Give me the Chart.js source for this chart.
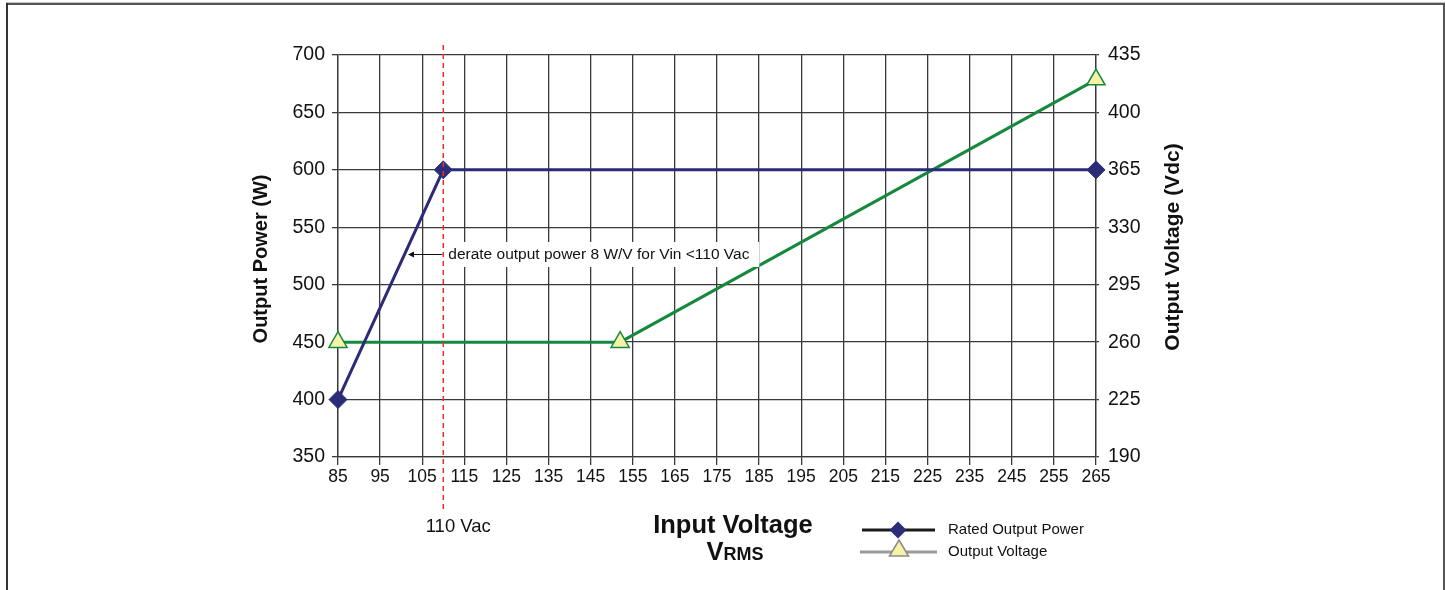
<!DOCTYPE html>
<html>
<head>
<meta charset="utf-8">
<script src="https://cdn.jsdelivr.net/npm/chart.js@4"></script>
<style>
  html, body { margin: 0; padding: 0; background: #fff; }
  #wrap { position: relative; width: 1445px; height: 590px; }
</style>
</head>
<body>
<div id="wrap"><canvas id="chart" width="1445" height="590"></canvas></div>
<script>
// --- data ---
const powerX = [85, 110, 265];
const powerY = [400, 600, 600];
const voltX = [85, 152, 265];
const voltY = [260, 260, 420];
const derateX = 110;

const FONT = '"Liberation Sans", Arial, Helvetica, sans-serif';
const NAVY = '#2a2c78';
const GREEN = '#16893f';
const PALE = '#f6f2a8';

function pts(xs, ys) { return xs.map((x, i) => ({ x: x, y: ys[i] })); }

function diamond(ctx, x, y, r, fill) {
    ctx.beginPath();
    ctx.moveTo(x, y - r); ctx.lineTo(x + r, y); ctx.lineTo(x, y + r); ctx.lineTo(x - r, y);
    ctx.closePath();
    ctx.fillStyle = fill; ctx.fill();
}
function triangle(ctx, x, y, r, fill, stroke) {
    ctx.beginPath();
    ctx.moveTo(x, y - r); ctx.lineTo(x + r * 0.95, y + r * 0.6); ctx.lineTo(x - r * 0.95, y + r * 0.6);
    ctx.closePath();
    ctx.fillStyle = fill; ctx.fill();
    ctx.lineWidth = 1.5; ctx.strokeStyle = stroke; ctx.stroke();
}

const extras = {
    id: 'extras',
    afterDatasetsDraw(chart) {
        const ctx = chart.ctx;
        const xs = chart.scales.x;
        const area = chart.chartArea;
        const xr = xs.getPixelForValue(derateX);
        ctx.save();
        // red dashed marker at 110 Vac
        ctx.strokeStyle = '#f02c2c';
        ctx.lineWidth = 1.5;
        ctx.setLineDash([5, 4]);
        ctx.beginPath(); ctx.moveTo(xr, area.top - 10); ctx.lineTo(xr, area.bottom + 56); ctx.stroke();
        ctx.setLineDash([]);

        // annotation box + arrow
        ctx.fillStyle = '#fff';
        ctx.fillRect(xr + 2, 242, 314, 25);
        ctx.fillStyle = '#111';
        ctx.font = '15.5px ' + FONT;
        ctx.textBaseline = 'middle';
        ctx.textAlign = 'left';
        ctx.fillText('derate output power 8 W/V for Vin <110 Vac', xr + 5, 255);
        ctx.strokeStyle = '#111'; ctx.lineWidth = 1;
        ctx.beginPath(); ctx.moveTo(xr - 1, 254.5); ctx.lineTo(409, 254.5); ctx.stroke();
        ctx.beginPath(); ctx.moveTo(408, 254.5); ctx.lineTo(414, 251.5); ctx.lineTo(414, 257.5); ctx.closePath();
        ctx.fillStyle = '#111'; ctx.fill();

        // 110 Vac label
        ctx.font = '18.5px ' + FONT;
        ctx.textAlign = 'center';
        ctx.fillText('110 Vac', xr + 15, 527);

        // axis titles
        ctx.font = 'bold 20px ' + FONT;
        ctx.save();
        ctx.translate(261, 259); ctx.rotate(-Math.PI / 2);
        ctx.fillText('Output Power (W)', 0, 0);
        ctx.restore();
        ctx.font = 'bold 21px ' + FONT;
        ctx.save();
        ctx.translate(1173, 247); ctx.rotate(-Math.PI / 2);
        ctx.fillText('Output Voltage (Vdc)', 0, 0);
        ctx.restore();

        ctx.font = 'bold 25.5px ' + FONT;
        ctx.textAlign = 'center';
        ctx.fillText('Input Voltage', 733, 526);
        ctx.textAlign = 'left';
        const vW = ctx.measureText('V').width;
        ctx.font = 'bold 18px ' + FONT;
        const rW = ctx.measureText('RMS').width;
        const startX = 735 - (vW + rW) / 2;
        ctx.font = 'bold 25.5px ' + FONT;
        ctx.textBaseline = 'alphabetic';
        ctx.fillText('V', startX, 560);
        ctx.font = 'bold 18px ' + FONT;
        ctx.fillText('RMS', startX + vW, 560);

        // legend
        ctx.lineWidth = 3;
        ctx.strokeStyle = '#1b1b1b';
        ctx.beginPath(); ctx.moveTo(862, 530); ctx.lineTo(935, 530); ctx.stroke();
        diamond(ctx, 898, 530, 8.5, NAVY);
        ctx.strokeStyle = '#9a9a9a';
        ctx.beginPath(); ctx.moveTo(860, 552); ctx.lineTo(937, 552); ctx.stroke();
        triangle(ctx, 899, 550, 10, PALE, '#8a8a8a');
        ctx.fillStyle = '#111';
        ctx.font = '15px ' + FONT;
        ctx.textBaseline = 'middle';
        ctx.fillText('Rated Output Power', 948, 530);
        ctx.fillText('Output Voltage', 948, 552);

        // frame
        ctx.fillStyle = '#c4c4c4'; ctx.fillRect(6, 2, 1439, 1);
        ctx.fillStyle = '#555'; ctx.fillRect(6, 3, 1439, 2);
        ctx.fillStyle = '#333'; ctx.fillRect(6, 3, 2, 587);
        ctx.fillStyle = '#555'; ctx.fillRect(1443, 3, 2, 587);
        ctx.restore();
    }
};

const gridColor = '#3a3a3a';

new Chart(document.getElementById('chart'), {
    type: 'line',
    data: {
        datasets: [
            {
                label: 'Rated Output Power',
                data: pts(powerX, powerY),
                yAxisID: 'y',
                clip: false,
                borderColor: NAVY,
                borderWidth: 3,
                pointStyle: 'rectRot',
                pointRadius: 9,
                pointBackgroundColor: NAVY,
                pointBorderColor: NAVY,
                pointBorderWidth: 1,
                tension: 0
            },
            {
                label: 'Output Voltage',
                data: pts(voltX, voltY),
                yAxisID: 'y2',
                clip: false,
                borderColor: GREEN,
                borderWidth: 3,
                pointStyle: 'triangle',
                pointRadius: 10.5,
                pointBackgroundColor: PALE,
                pointBorderColor: GREEN,
                pointBorderWidth: 1.5,
                tension: 0
            }
        ]
    },
    options: {
        responsive: false,
        animation: false,
        layout: { padding: { left: 0, right: 0, top: 55, bottom: 93 } },
        plugins: { legend: { display: false }, tooltip: { enabled: false } },
        scales: {
            x: {
                type: 'linear',
                min: 85, max: 265,
                afterFit: s => { s.height = 40; },
                ticks: { stepSize: 10, color: '#111', font: { family: FONT, size: 17.5 }, padding: 2, maxRotation: 0 },
                grid: { color: gridColor, lineWidth: 1.3, tickLength: 8 },
                border: { color: gridColor, width: 1.3 }
            },
            y: {
                position: 'left',
                min: 350, max: 700,
                afterFit: s => { s.width = 338; },
                ticks: { stepSize: 50, color: '#111', font: { family: FONT, size: 19.5 }, padding: 7 },
                grid: { color: gridColor, lineWidth: 1.3, tickLength: 6 },
                border: { color: gridColor, width: 1.3 }
            },
            y2: {
                position: 'right',
                min: 190, max: 435,
                afterFit: s => { s.width = 349; },
                ticks: { stepSize: 35, color: '#111', font: { family: FONT, size: 19.5 }, padding: 9 },
                grid: { drawOnChartArea: false, color: gridColor, lineWidth: 1.3, tickLength: 3 },
                border: { color: gridColor, width: 1.3 }
            }
        }
    },
    plugins: [extras]
});
</script>
</body>
</html>
